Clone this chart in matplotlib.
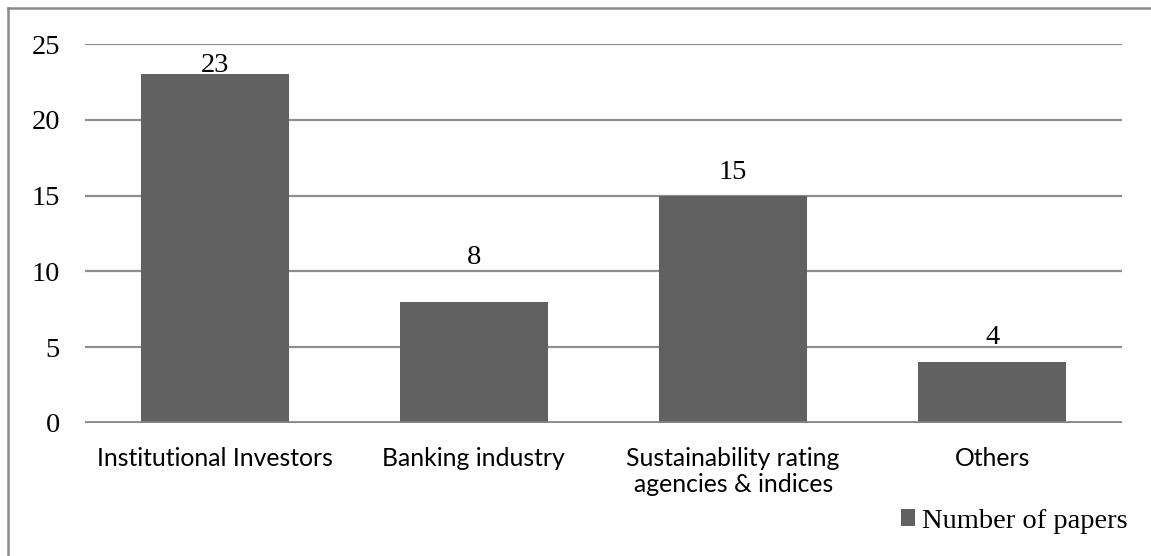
import matplotlib
matplotlib.use("Agg")
import matplotlib.pyplot as plt
from matplotlib.lines import Line2D
from matplotlib.patches import Patch
import matplotlib.transforms as mtransforms

categories = ["Institutional Investors", "Banking industry",
              "Sustainability rating\nagencies & indices", "Others"]
values = [23, 8, 15, 4]
series_name = "Number of papers"
yticks = [0, 5, 10, 15, 20, 25]

# label offsets above bar top, in pixels (as placed in the original)
label_offsets_px = [2, 38, 17, 18]

W, H = 1151, 556
fig = plt.figure(figsize=(W / 100, H / 100), dpi=100)
fig.patch.set_facecolor("white")

ax = fig.add_axes([85 / W, (H - 423) / H, (1122 - 85) / W, (423 - 44) / H])
bar_color = "#616161"
x = list(range(len(categories)))
ax.bar(x, values, width=0.571, color=bar_color, zorder=3)
ax.set_xlim(-0.5, len(categories) - 0.5)
ax.set_ylim(0, 25)
ax.set_yticks(yticks)
ax.set_xticks(x)

serif = ["Liberation Serif", "DejaVu Serif"]
sans = ["Lato", "DejaVu Sans"]
ax.set_yticklabels([str(t) for t in yticks], fontfamily=serif, fontsize=20.5)
ax.set_xticklabels(categories, fontfamily=sans, fontsize=17.8, linespacing=1.2)
ax.tick_params(axis="y", length=0, pad=18)
ax.tick_params(axis="x", length=0, pad=17)
for s in ax.spines.values():
    s.set_visible(False)
ax.yaxis.grid(True, color="#8e8e8e", linewidth=1.6, zorder=0)
ax.set_axisbelow(True)
ax.axhline(0, color="#848484", linewidth=2.6, zorder=4)

# value labels
for xi, v, off in zip(x, values, label_offsets_px):
    tr = mtransforms.offset_copy(ax.transData, fig=fig, x=0, y=off, units="dots")
    ax.text(xi, v, str(v), transform=tr, ha="center", va="baseline",
            fontfamily=serif, fontsize=20.5, color="black", zorder=5)

# legend
handle = Patch(facecolor=bar_color, edgecolor="none")
leg = fig.legend([handle], [series_name], loc="center left",
                 bbox_to_anchor=(901 / W, (H - 521) / H), frameon=False,
                 prop={"family": serif, "size": 20.5},
                 handlelength=0.5, handleheight=0.5, handletextpad=0.25,
                 borderpad=0, borderaxespad=0)

# outer border (top and left visible)
fig.add_artist(Line2D([8 / W, 1], [(H - 8) / H, (H - 8) / H], color="#8a8a8a",
                      linewidth=1.8, transform=fig.transFigure))
fig.add_artist(Line2D([8 / W, 8 / W], [0, (H - 8) / H], color="#8a8a8a",
                      linewidth=1.8, transform=fig.transFigure))

fig.savefig("out.png", dpi=100)
